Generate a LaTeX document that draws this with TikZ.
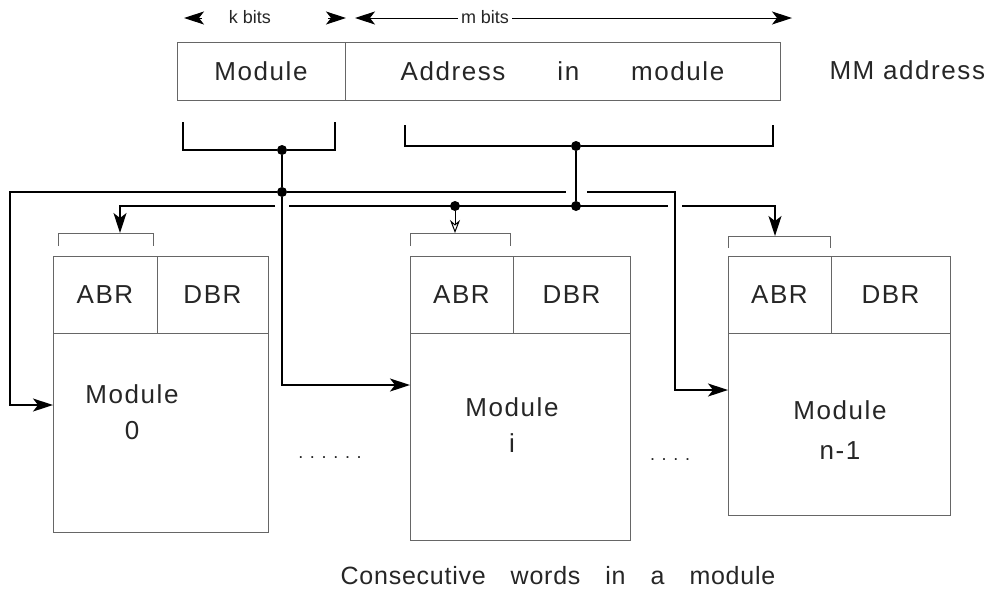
\documentclass[tikz,border=0pt]{standalone}
\usepackage{fontspec}
\setmainfont{Liberation Sans}
\usetikzlibrary{arrows.meta}
\begin{document}
\begin{tikzpicture}[x=1pt,y=-1pt,
  box/.style={draw=black!60, line width=0.9pt, inner sep=0pt, outer sep=0pt},
  wire/.style={draw=black, line width=1.4pt},
  tip/.style={-{Stealth[length=20pt,width=13pt,inset=5pt]}},
  lbl/.style={font=\fontsize{26}{30}\selectfont\addfontfeatures{LetterSpace=6}, text=black!85},
  small/.style={font=\fontsize{18}{22}\selectfont, text=black!85},
  jdot/.style={circle, fill=black, inner sep=0pt, minimum size=10pt},
]
\useasboundingbox (0,0) rectangle (1003,606);

% top address format
\node[box, lbl, minimum width=168pt, minimum height=58pt] (modf) at (261,71) {Module};
\node[box, lbl, minimum width=435pt, minimum height=58pt] (addrf) at (562.5,71) {Address\qquad in\qquad module};
\node[lbl, anchor=west] (mm) at (826,70) {MM address};

% k bits / m bits
\node[small] (kb) at (250,17) {k bits};
\coordinate (kl) at (184,18);
\coordinate (kr) at (346,18);
\draw[wire, line width=1pt, tip] (202,18) -- (kl);
\draw[wire, line width=1pt, tip] (328,18) -- (kr);
\coordinate (ml) at (355,18);
\coordinate (mr) at (792,18);
\draw[wire, line width=1pt, {Stealth[length=20pt,width=13pt,inset=5pt]}-{Stealth[length=20pt,width=13pt,inset=5pt]}] (ml) -- (mr);
\node[small, fill=white] (mb) at (485,17) {m bits};

% brackets under the address fields
\node[jdot] (d1) at (282,150) {};
\node[jdot] (d2) at (576,146) {};
\draw[wire, line width=1.1pt] (183,122) |- (d1) -| (335,122);
\draw[wire, line width=1.1pt] (405,125) |- (d2) -| (773,125);

% junctions
\node[jdot] (j1) at (282,192) {};
\node[jdot] (d3) at (576,206) {};
\node[jdot] (di) at (455,206) {};
\draw[wire] (d1) -- (j1);
\draw[wire] (d2) -- (d3);

% modules
\node[box, minimum width=215pt, minimum height=276pt] (m0) at (160.5,394) {};
\node[box, lbl, minimum width=104pt, minimum height=77pt] (abr0) at (105,294.5) {ABR};
\node[box, lbl, minimum width=111pt, minimum height=77pt] (dbr0) at (212.5,294.5) {DBR};
\node[lbl, align=center] (t0) at (132,412) {Module\\[6pt]0};

\node[box, minimum width=220pt, minimum height=284pt] (mi) at (520,398) {};
\node[box, lbl, minimum width=103pt, minimum height=77pt] (abri) at (461.5,294.5) {ABR};
\node[box, lbl, minimum width=117pt, minimum height=77pt] (dbri) at (571.5,294.5) {DBR};
\node[lbl, align=center] (ti) at (512,425) {Module\\[6pt]i};

\node[box, minimum width=222pt, minimum height=259pt] (mn) at (839,385.5) {};
\node[box, lbl, minimum width=103pt, minimum height=77pt] (abrn) at (779.5,294.5) {ABR};
\node[box, lbl, minimum width=119pt, minimum height=77pt] (dbrn) at (890.5,294.5) {DBR};
\node[lbl, align=center] (tn) at (840,430) {Module\\[10pt]n-1};

% small brackets on top of ABR
\draw[box] (58,246) |- (153,233) -- (153,246);
\draw[box] (410,246) |- (510,233) -- (510,246);
\draw[box] (728,248) |- (830,236) -- (830,248);

% module-select lines (bus 1)
\coordinate (c0) at (10,405);
\coordinate (in0) at (53,405);
\coordinate (ini) at (410,385);
\coordinate (tnn) at (675,390);
\coordinate (inn) at (728,390);
\draw[wire, tip] (j1) -| (c0) -- (in0);
\draw[wire, tip] (j1) |- (ini);
\draw[wire] (j1) -- (566,192);
\draw[wire, tip] (587,192) -| (tnn) -- (inn);

% address lines (bus 2)
\coordinate (a0) at (120,233);
\coordinate (ai) at (455,233);
\coordinate (an) at (775,236);
\draw[wire, tip] (275,206) -| (a0);
\draw[wire] (289,206) -- (668,206);
\draw[wire, tip] (682,206) -| (an);
\draw[wire, line width=1pt, -{Stealth[length=13pt,width=10pt,open]}] (di) -- (ai);

% ellipses
\node[small] (e1) at (330,458) {. . . . . .};
\node[small] (e2) at (670,460) {. . . .};

% caption
\node[lbl, font=\fontsize{25}{30}\selectfont\addfontfeatures{LetterSpace=3}] (cap) at (558,576) {Consecutive\quad words\quad in\quad a\quad module};
\end{tikzpicture}
\end{document}
